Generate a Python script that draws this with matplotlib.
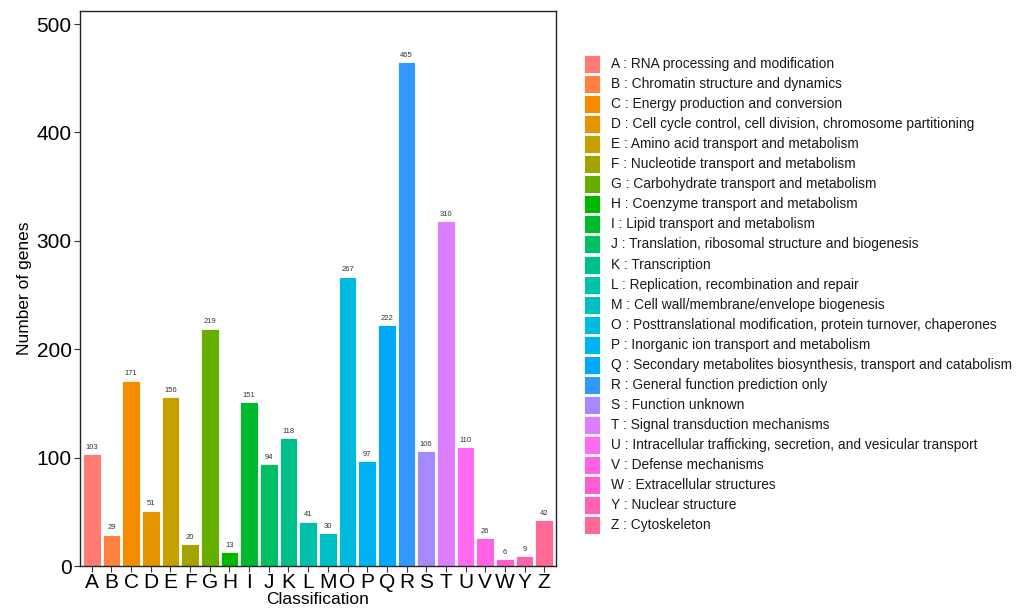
import matplotlib
matplotlib.use("Agg")
import matplotlib.pyplot as plt
import matplotlib.patches as mpatches

plt.rcParams['font.family'] = ['Liberation Sans', 'DejaVu Sans']

codes = ['A', 'B', 'C', 'D', 'E', 'F', 'G', 'H', 'I', 'J', 'K', 'L', 'M',
         'O', 'P', 'Q', 'R', 'S', 'T', 'U', 'V', 'W', 'Y', 'Z']
counts = [103, 29, 171, 51, 156, 20, 219, 13, 151, 94, 118, 41, 30,
          267, 97, 222, 465, 106, 318, 110, 26, 6, 9, 42]
# the T bar is labelled 310 in the source picture
count_labels = ['103', '29', '171', '51', '156', '20', '219', '13', '151', '94',
                '118', '41', '30', '267', '97', '222', '465', '106', '310',
                '110', '26', '6', '9', '42']
descriptions = [
    'RNA processing and modification',
    'Chromatin structure and dynamics',
    'Energy production and conversion',
    'Cell cycle control, cell division, chromosome partitioning',
    'Amino acid transport and metabolism',
    'Nucleotide transport and metabolism',
    'Carbohydrate transport and metabolism',
    'Coenzyme transport and metabolism',
    'Lipid transport and metabolism',
    'Translation, ribosomal structure and biogenesis',
    'Transcription',
    'Replication, recombination and repair',
    'Cell wall/membrane/envelope biogenesis',
    'Posttranslational modification, protein turnover, chaperones',
    'Inorganic ion transport and metabolism',
    'Secondary metabolites biosynthesis, transport and catabolism',
    'General function prediction only',
    'Function unknown',
    'Signal transduction mechanisms',
    'Intracellular trafficking, secretion, and vesicular transport',
    'Defense mechanisms',
    'Extracellular structures',
    'Nuclear structure',
    'Cytoskeleton',
]
colors = ['#FF7B73', '#FF8140', '#F58C00', '#E29500', '#C7A000', '#A3A300',
          '#66AE00', '#00B700', '#00BA2E', '#00BF63', '#00C08A', '#00C1A9',
          '#00BFC4', '#00BAE0', '#00B3F4', '#00A7FF', '#3399FF', '#A58AFF',
          '#DC7EFF', '#FF6BF2', '#FF62E3', '#FF5FCC', '#FF61B4', '#FF6A94']

fig = plt.figure(figsize=(10.28, 6.14), dpi=100)
ax = fig.add_axes([80 / 1028, 48 / 614, 476 / 1028, 555 / 614])

x = list(range(len(codes)))
bars = ax.bar(x, counts, width=0.9, color=colors, edgecolor='white', linewidth=0.6)
for xi, c, lab in zip(x, counts, count_labels):
    ax.text(xi, c + 3, lab, ha='center', va='bottom', fontsize=5.5, color='#333333')

ax.set_xlim(-0.6, len(codes) - 0.4)
ax.set_ylim(0, 512)
ax.set_xticks(x)
ax.set_xticklabels(codes, fontsize=15)
ax.set_yticks([0, 100, 200, 300, 400, 500])
ax.tick_params(axis='y', labelsize=15, length=4, color='#333333', pad=2)
ax.tick_params(axis='x', length=4, color='#333333', pad=1)
for s in ax.spines.values():
    s.set_linewidth(1.0)
    s.set_color('#222222')
ax.set_ylabel('Number of genes', fontsize=12.5, labelpad=3)
ax.set_xlabel('Classification', fontsize=12.5, labelpad=0)

# legend: colour key drawn row by row in figure pixels
W, H = 1028, 614
for i, (code, desc, col) in enumerate(zip(codes, descriptions, colors)):
    yc = 64 + i * 20.05
    fig.add_artist(mpatches.Rectangle((584 / W, (H - yc - 9) / H), 16 / W, 18 / H,
                                      transform=fig.transFigure, facecolor=col,
                                      edgecolor='white', linewidth=0.6))
    fig.text(611 / W, (H - yc) / H, f'{code} : {desc}', fontsize=9.9,
             va='center', ha='left', color='#1a1a1a')

fig.savefig('out.png', dpi=100)
